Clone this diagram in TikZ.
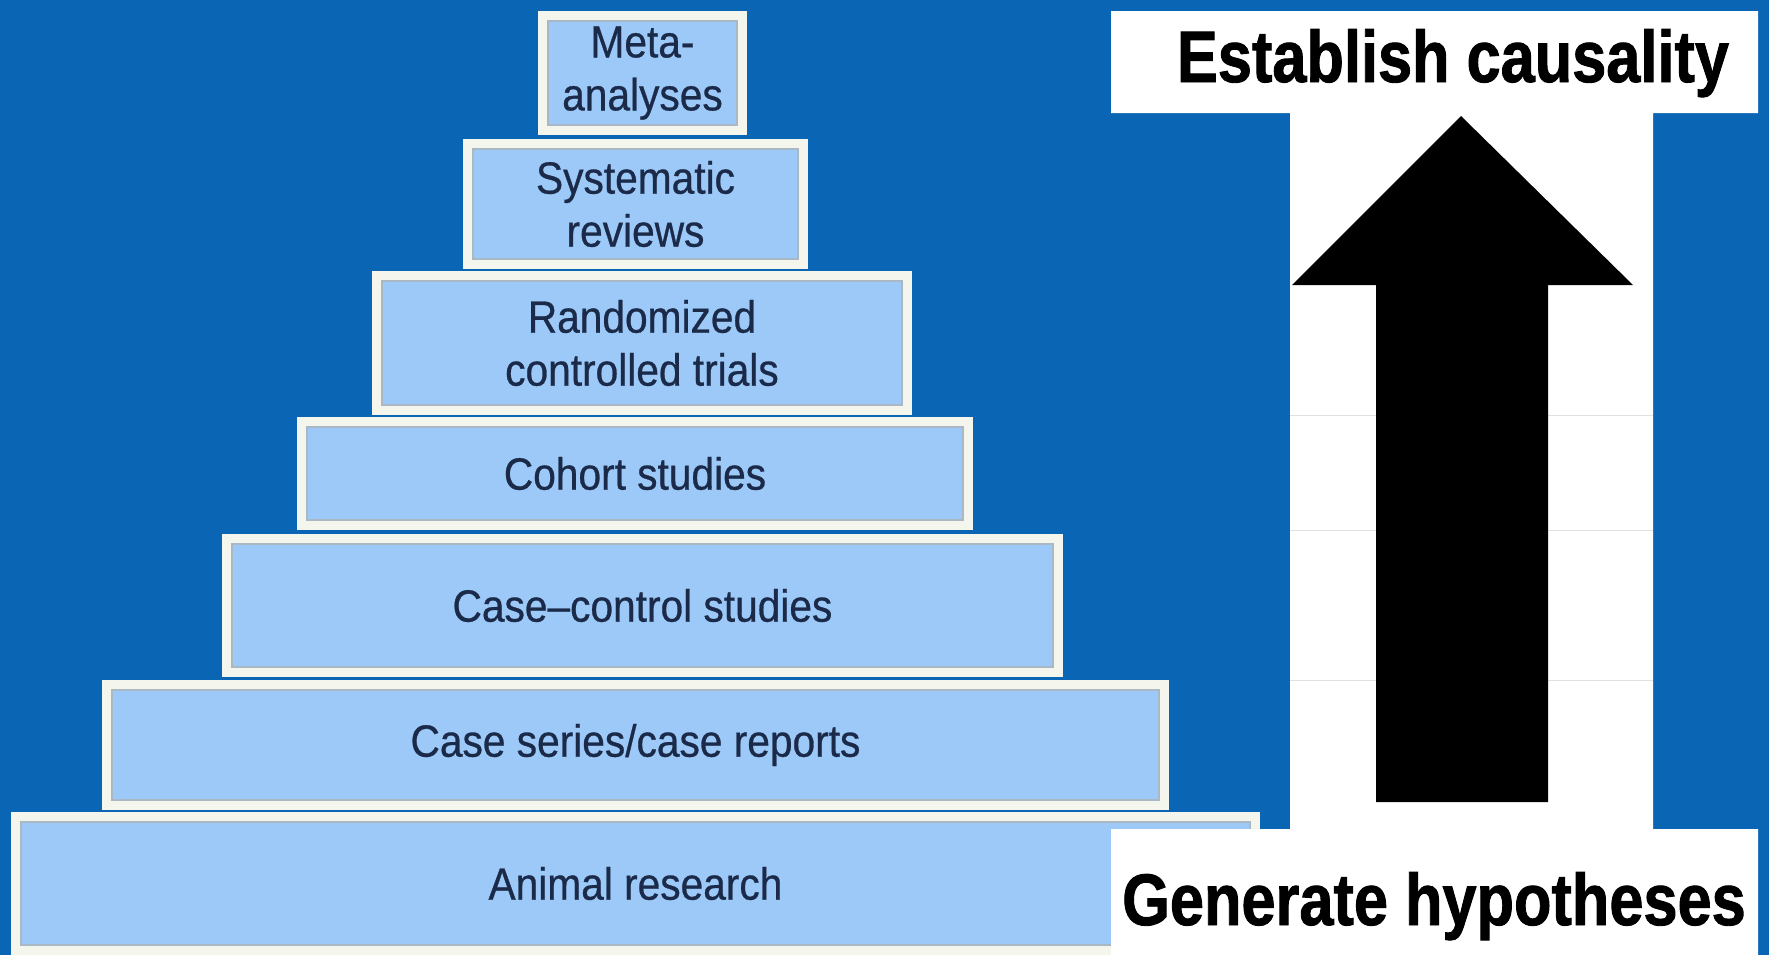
\documentclass[tikz,border=0pt]{standalone}
\usepackage{fontspec}
\setmainfont{Liberation Sans}
\newfontfamily\stepfont[Ligatures=TeX,FakeStretch=0.9,FakeBold=0.6]{Liberation Sans}
\newfontfamily\headfont[Ligatures=TeX,FakeStretch=0.84,FakeBold=1.2]{Liberation Sans}
\usetikzlibrary{positioning}
\definecolor{slideblue}{RGB}{10,102,180}
\definecolor{stepfill}{RGB}{156,201,248}
\definecolor{stepframe}{RGB}{244,246,238}
\definecolor{stepline}{RGB}{170,184,196}
\definecolor{steptext}{RGB}{26,42,72}
\begin{document}
\begin{tikzpicture}[x=0.5pt,y=-0.5pt,
level/.style={rectangle, fill=stepfill, draw=stepline, line width=0.6pt,
  preaction={draw=stepframe, line width=10pt},
  inner sep=0pt, align=center, text=steptext,
  font=\stepfont\fontsize{22.6}{26.5}\selectfont},
tag/.style={anchor=base, inner sep=0pt, text=black,
  font=\headfont\bfseries\fontsize{36.5}{40}\selectfont}]
\useasboundingbox (0,0) rectangle (1769,955);
\fill[slideblue] (0,0) rectangle (1769,955);
% pyramid
\node[level, minimum width=94.5pt, minimum height=52pt] (meta) at (642.5,73) {Meta-\\analyses};
\node[level, minimum width=162.5pt, minimum height=55pt] (sysrev) at (635.5,204) {Systematic\\reviews};
\node[level, minimum width=260pt, minimum height=62pt] (rct) at (642,343) {Randomized\\controlled trials};
\node[level, minimum width=328pt, minimum height=46.5pt] (cohort) at (635,473.5) {Cohort studies};
\node[level, minimum width=410.5pt, minimum height=61.5pt] (casectrl) at (642.5,605.5) {Case--control studies};
\node[level, minimum width=523.5pt, minimum height=55pt] (series) at (635.5,745) {Case series/case reports};
\node[level, minimum width=614.5pt, minimum height=61.5pt] (animal) at (635.5,883.5) {Animal research};
% scale on the right
\begin{scope}
\fill[white] (1111,11) -- (1758,11) -- (1758,113) -- (1653,113) -- (1653,829)
  -- (1758,829) -- (1758,955) -- (1111,955) -- (1111,829) -- (1290,829)
  -- (1290,113) -- (1111,113) -- cycle;
\foreach \y in {415,530,680}
  \draw[black!12, line width=0.5pt] (1290,\y) -- (1653,\y);
\coordinate (tip) at (1461,116);
\fill[black] (tip) -- (1633,285) -- (1548,285) -- (1548,802) -- (1376,802)
  -- (1376,285) -- (1292,285) -- cycle;
\node[tag] (cause) at (1453,82) {Establish causality};
\node[tag] (hypo) at (1434,925) {Generate hypotheses};
\end{scope}
\end{tikzpicture}
\end{document}
